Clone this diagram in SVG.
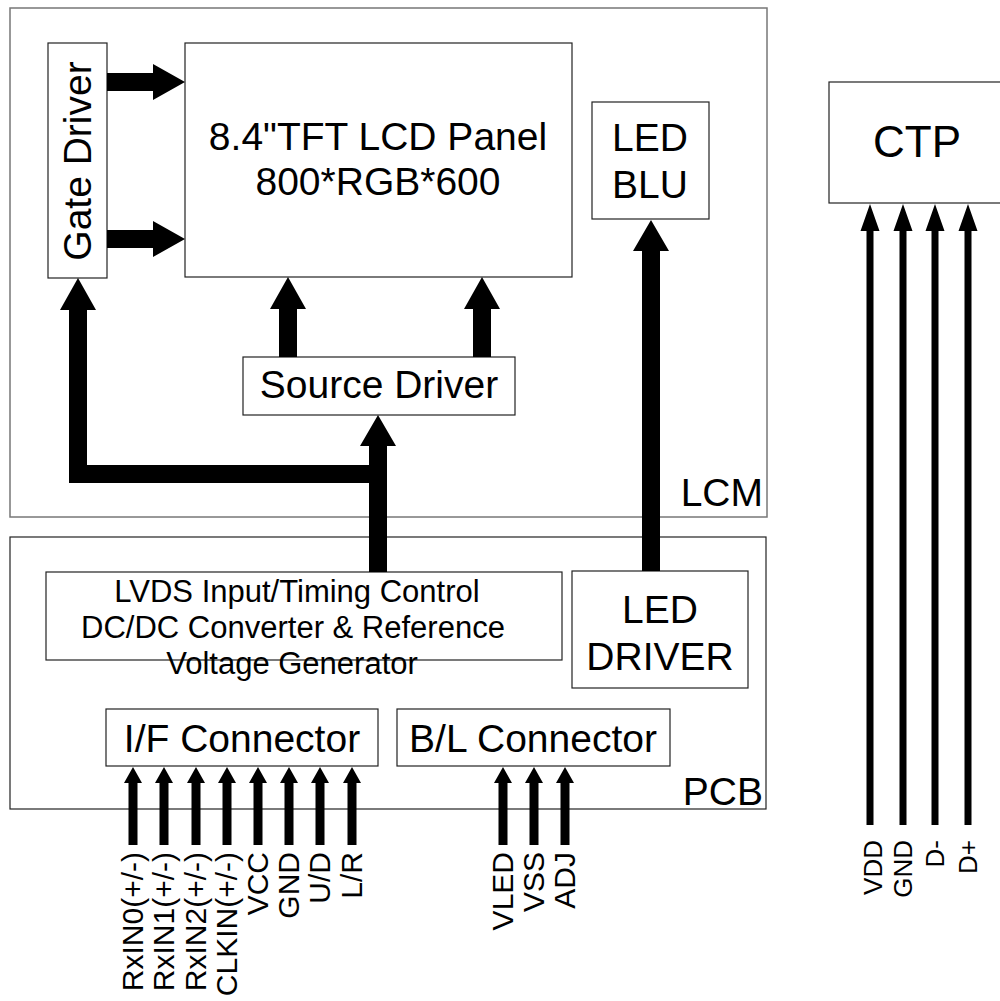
<svg xmlns="http://www.w3.org/2000/svg" width="1000" height="1001" viewBox="0 0 1000 1001">
<style>
text{font-family:"Liberation Sans",Arial,sans-serif;fill:#000}
.frame{fill:none;stroke:#777;stroke-width:1.5}
.frame2{fill:none;stroke:#222;stroke-width:1.2}
.box{fill:#fff;stroke:#222;stroke-width:1.2}
.big{font-size:39px;text-anchor:middle}
.mid{font-size:31px;text-anchor:middle}
.pin{font-size:30px;text-anchor:end}
.ctp{font-size:26px;text-anchor:end}
.arrow{fill:#000;stroke:none}
</style>
<rect width="1000" height="1001" fill="#fff"/>
<g id="lcm"><rect class="frame" x="10" y="8" width="757" height="509"/><text class="big" x="763" y="506" style="text-anchor:end">LCM</text></g>
<g id="pcb"><rect class="frame2" x="10" y="537" width="756" height="272"/><text class="big" x="763" y="805" style="text-anchor:end">PCB</text></g>
<g id="gate-driver"><rect class="box" x="48" y="43" width="59" height="235"/><text class="big" transform="translate(91,161) rotate(-90)">Gate Driver</text></g>
<g id="panel"><rect class="box" x="185" y="43" width="387" height="234"/><text class="big" x="378" y="150">8.4"TFT LCD Panel</text><text class="big" x="378" y="195">800*RGB*600</text></g>
<g id="source-driver"><rect class="box" x="243" y="357" width="272" height="58"/><text class="big" x="379" y="398">Source Driver</text></g>
<g id="led-blu"><rect class="box" x="592" y="102" width="117" height="117"/><text class="big" x="650" y="151">LED</text><text class="big" x="650" y="198">BLU</text></g>
<g id="ctp"><rect class="box" x="829" y="82" width="180" height="121"/><text class="big" x="917" y="157" style="font-size:44px">CTP</text></g>
<g id="lvds"><rect class="box" x="46" y="572" width="516" height="88"/><text class="mid" x="297" y="602">LVDS Input/Timing Control</text><text class="mid" x="293" y="638">DC/DC Converter &amp; Reference</text><text class="mid" x="292" y="674">Voltage Generator</text></g>
<g id="led-driver"><rect class="box" x="572" y="571" width="176" height="117"/><text class="big" x="660" y="623">LED</text><text class="big" x="660" y="670">DRIVER</text></g>
<g id="if-connector"><rect class="box" x="106" y="709" width="272" height="57"/><text class="big" x="242" y="752">I/F Connector</text></g>
<g id="bl-connector"><rect class="box" x="397" y="709" width="273" height="57"/><text class="big" x="533" y="752">B/L Connector</text></g>
<g id="connectors">
<polygon class="arrow" points="107,73 153,73 153,64 185,82 153,100 153,91 107,91"/>
<polygon class="arrow" points="107,230 153,230 153,221 185,239 153,257 153,248 107,248"/>
<polygon class="arrow" points="279,357 279,309 270,309 288,277 306,309 297,309 297,357"/>
<polygon class="arrow" points="473,357 473,309 464,309 482,277 500,309 491,309 491,357"/>
<polygon class="arrow" points="642,571 642,251 633,251 651,220 669,251 660,251 660,571"/>
<polygon class="arrow" points="387,572 387,446 396,446 378,415 360,446 369,446 369,465 87,465 87,310 96,310 78,278 60,310 69,310 69,483 369,483 369,572"/>
<g id="if-pins">
<polygon class="arrow" points="128.5,845 128.5,783 124,783 133,767 142,783 137.5,783 137.5,845"/>
<polygon class="arrow" points="159.5,845 159.5,783 155,783 164,767 173,783 168.5,783 168.5,845"/>
<polygon class="arrow" points="191.5,845 191.5,783 187,783 196,767 205,783 200.5,783 200.5,845"/>
<polygon class="arrow" points="222.5,845 222.5,783 218,783 227,767 236,783 231.5,783 231.5,845"/>
<polygon class="arrow" points="253.5,845 253.5,783 249,783 258,767 267,783 262.5,783 262.5,845"/>
<polygon class="arrow" points="284.5,845 284.5,783 280,783 289,767 298,783 293.5,783 293.5,845"/>
<polygon class="arrow" points="315.5,845 315.5,783 311,783 320,767 329,783 324.5,783 324.5,845"/>
<polygon class="arrow" points="347.5,845 347.5,783 343,783 352,767 361,783 356.5,783 356.5,845"/>
</g>
<g id="bl-pins">
<polygon class="arrow" points="498.5,845 498.5,783 494,783 503,767 512,783 507.5,783 507.5,845"/>
<polygon class="arrow" points="529.5,845 529.5,783 525,783 534,767 543,783 538.5,783 538.5,845"/>
<polygon class="arrow" points="560.5,845 560.5,783 556,783 565,767 574,783 569.5,783 569.5,845"/>
</g>
<g id="ctp-pins">
<polygon class="arrow" points="866.5,825 866.5,231 860.5,231 870,204 879.5,231 873.5,231 873.5,825"/>
<polygon class="arrow" points="899.5,825 899.5,231 893.5,231 903,204 912.5,231 906.5,231 906.5,825"/>
<polygon class="arrow" points="931.5,825 931.5,231 925.5,231 935,204 944.5,231 938.5,231 938.5,825"/>
<polygon class="arrow" points="964.5,825 964.5,231 958.5,231 968,204 977.5,231 971.5,231 971.5,825"/>
</g>
</g>
<g id="pin-labels">
<text class="pin" transform="translate(143,852) rotate(-90)">RxIN0(+/-)</text>
<text class="pin" transform="translate(174,852) rotate(-90)">RxIN1(+/-)</text>
<text class="pin" transform="translate(206,852) rotate(-90)">RxIN2(+/-)</text>
<text class="pin" transform="translate(237,852) rotate(-90)">CLKIN(+/-)</text>
<text class="pin" transform="translate(268,852) rotate(-90)">VCC</text>
<text class="pin" transform="translate(299,852) rotate(-90)">GND</text>
<text class="pin" transform="translate(330,852) rotate(-90)">U/D</text>
<text class="pin" transform="translate(362,852) rotate(-90)">L/R</text>
<text class="pin" transform="translate(513,852) rotate(-90)">VLED</text>
<text class="pin" transform="translate(544,852) rotate(-90)">VSS</text>
<text class="pin" transform="translate(575,852) rotate(-90)">ADJ</text>
<text class="ctp" transform="translate(882,840) rotate(-90)">VDD</text>
<text class="ctp" transform="translate(912,840) rotate(-90)">GND</text>
<text class="ctp" transform="translate(944,840) rotate(-90)">D-</text>
<text class="ctp" transform="translate(977,840) rotate(-90)">D+</text>
</g>
</svg>
